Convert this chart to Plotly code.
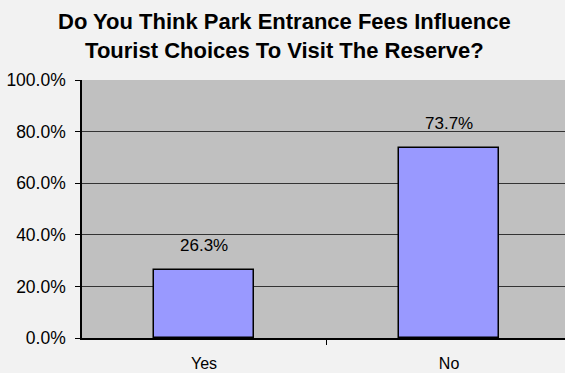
import plotly.graph_objects as go

categories = ["Yes", "No"]
shares = [26.3, 73.7]
y_ticks = [0, 20, 40, 60, 80, 100]
y_tick_labels = ["0.0%", "20.0%", "40.0%", "60.0%", "80.0%", "100.0%"]
title_lines = ["Do You Think Park Entrance Fees Influence",
               "Tourist Choices To Visit The Reserve?"]

fig = go.Figure()
fig.add_trace(go.Bar(
    x=categories,
    y=shares,
    width=0.408,
    marker=dict(color="#9999ff", line=dict(color="#000000", width=1.5)),
))

# Value labels sitting a little above each bar
for cat, val in zip(categories, shares):
    fig.add_annotation(
        x=cat, y=val, text=f"{val:.1f}%",
        xanchor="center", yanchor="bottom", yshift=13,
        showarrow=False,
        font=dict(family="Liberation Sans, Arial", size=17, color="#000000"),
    )

fig.update_layout(
    width=565, height=373,
    margin=dict(l=82, r=0, t=80, b=35),
    paper_bgcolor="#f2f2f2",
    plot_bgcolor="#c0c0c0",
    showlegend=False,
    font=dict(family="Liberation Sans, Arial", size=17, color="#000000"),
    bargap=0,
)

# Two-line bold heading, centred over the page
fig.add_annotation(
    text="<b>" + "<br>".join(title_lines) + "</b>",
    xref="paper", yref="paper", x=0.42, y=1.283,
    xanchor="center", yanchor="top",
    showarrow=False, align="center",
    font=dict(family="Liberation Sans, Arial", size=22, color="#000000"),
)

fig.update_xaxes(
    type="category",
    range=[-0.498, 1.473],
    tickson="boundaries",
    ticks="outside", ticklen=5, tickcolor="#000000",
    showline=True, linecolor="#000000", linewidth=1.5,
    showgrid=False,
    ticklabelstandoff=10,
    tickfont=dict(size=16),
)
fig.update_yaxes(
    range=[0, 100],
    tickvals=y_ticks, ticktext=y_tick_labels,
    ticks="outside", ticklen=5, tickcolor="#000000",
    showline=True, linecolor="#000000", linewidth=1.5,
    showgrid=True, gridcolor="#333333", gridwidth=1,
    zeroline=False,
    ticklabelstandoff=6,
    tickfont=dict(size=17.5),
)

fig.write_html("out.html")
